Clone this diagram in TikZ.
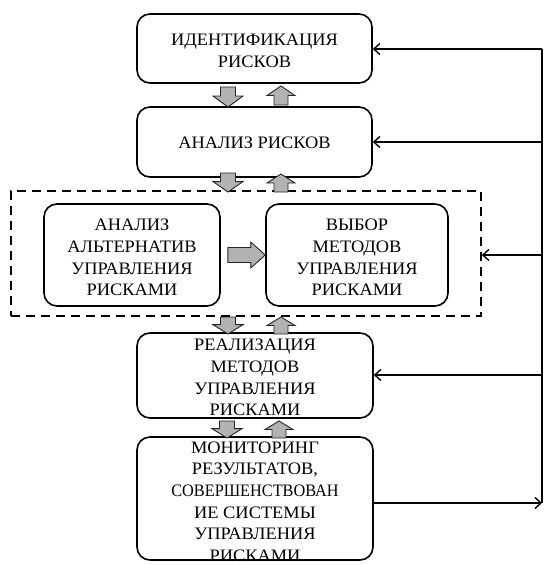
\documentclass[tikz,border=0pt]{standalone}
\usepackage{fontspec}
\setmainfont{Liberation Serif}[FakeStretch=1.05]
\newfontfamily\narrowfont{Liberation Serif}[FakeStretch=0.93]
\usetikzlibrary{arrows.meta,calc}
\tikzset{
  box/.style={draw, line width=1.6pt, rounded corners=13pt, inner sep=0pt},
  txt/.style={align=center, font=\fontsize{17.5}{21.6}\selectfont, inner sep=0pt},
  blk/.style={draw=black!85, fill=black!30, line width=0.9pt, line join=miter},
  fb/.style={line width=1.6pt, -{Straight Barb[length=6pt,width=11pt,line width=1.4pt]}},
  pics/dnarrow/.style={code={
    \draw[blk] (-7.5,0) -- (7.5,0) -- (7.5,{-0.45*#1}) -- (15,{-0.45*#1}) -- (0,{-#1}) -- (-15,{-0.45*#1}) -- (-7.5,{-0.45*#1}) -- cycle;}},
  pics/uparrow/.style={code={
    \draw[blk] (-7,0) -- (7,0) -- (7,{0.5*#1}) -- (14,{0.5*#1}) -- (0,{#1}) -- (-14,{0.5*#1}) -- (-7,{0.5*#1}) -- cycle;}}
}
\begin{document}
\begin{tikzpicture}[x=1pt,y=1pt]
\useasboundingbox (0,0) rectangle (544,-565);

\node[box, minimum width=235pt, minimum height=69pt] (b1) at (254.5,-48.5) {};
\node[txt] (t1) at ($(b1.center)+(0,-2.5)$) {ИДЕНТИФИКАЦИЯ\\РИСКОВ};
\node[box, minimum width=235pt, minimum height=70pt] (b2) at (254.5,-142) {};
\node[txt] (t2) at ($(b2.center)+(0,-0.5)$) {АНАЛИЗ РИСКОВ};
\node[draw, line width=1.6pt, dash pattern=on 9pt off 6pt, minimum width=470pt, minimum height=125pt] (dsh) at (246,-253.5) {};
\node[box, minimum width=176pt, minimum height=102pt] (l) at (132,-255) {};
\node[txt] (tl) at ($(l.center)+(0,-2.5)$) {АНАЛИЗ\\АЛЬТЕРНАТИВ\\УПРАВЛЕНИЯ\\РИСКАМИ};
\node[box, minimum width=182pt, minimum height=102pt] (r) at (357,-255) {};
\node[txt] (tr) at ($(r.center)+(0,-2.5)$) {ВЫБОР\\МЕТОДОВ\\УПРАВЛЕНИЯ\\РИСКАМИ};
\node[box, minimum width=236pt, minimum height=85pt] (b3) at (255,-375.5) {};
\node[txt] (t3) at ($(b3.center)+(0,-2)$) {РЕАЛИЗАЦИЯ\\МЕТОДОВ\\УПРАВЛЕНИЯ\\РИСКАМИ};
\node[box, minimum width=236pt, minimum height=123pt] (b4) at (255,-498.5) {};
\node[txt] (t4) at ($(b4.center)+(0,-3)$) {МОНИТОРИНГ\\РЕЗУЛЬТАТОВ,\\{\narrowfont СОВЕРШЕНСТВОВАН}\\ИЕ СИСТЕМЫ\\УПРАВЛЕНИЯ\\РИСКАМИ};

% block arrows between stages
\pic at (228,-87) {dnarrow=20};
\pic at (281,-105) {uparrow=19};
\pic at (228,-173) {dnarrow=19};
\pic at (281,-192) {uparrow=18};
\pic at (228,-317) {dnarrow=17};
\pic at (281,-334) {uparrow=17};
\pic at (227,-421) {dnarrow=17};
\pic at (279,-438) {uparrow=17};

% horizontal block arrow
\draw[blk] ($(l.east)+(7,7.5)$) -- ($(l.east)+(30,7.5)$) -- ($(l.east)+(30,13)$) -- (r.west) -- ($(l.east)+(30,-13)$) -- ($(l.east)+(30,-7.5)$) -- ($(l.east)+(7,-7.5)$) -- cycle;

% feedback loop
\coordinate (f1) at (542,-49);
\coordinate (f2) at (542,-142);
\coordinate (f3) at (542,-255);
\coordinate (f4) at (542,-375);
\coordinate (f5) at (542,-503);
\draw[line width=1.6pt] (f1) -- (f5);
\draw[fb] (f1) -- (f1 -| b1.east);
\draw[fb] (f2) -- (f2 -| b2.east);
\draw[fb] (f3) -- (f3 -| dsh.east);
\draw[fb] (f4) -- (f4 -| b3.east);
\draw[fb] (f5 -| b4.east) -- (f5);
\end{tikzpicture}
\end{document}
